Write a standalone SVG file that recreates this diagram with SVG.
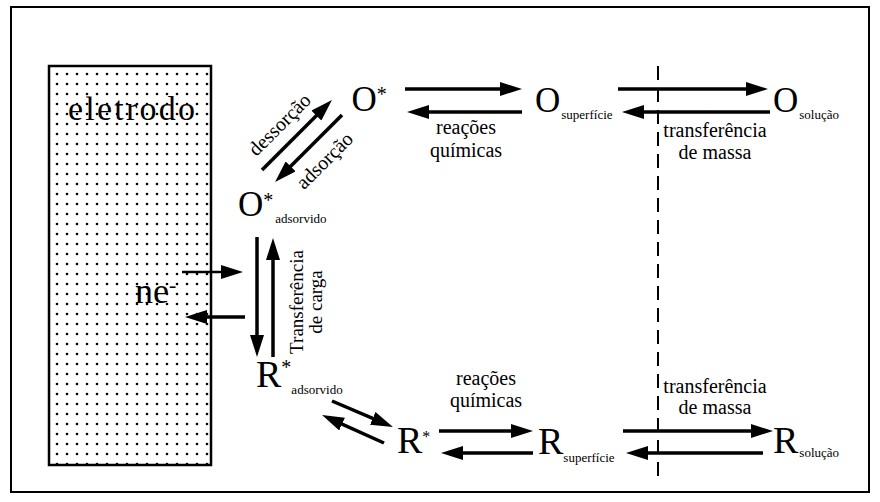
<svg xmlns="http://www.w3.org/2000/svg" width="880" height="502" viewBox="0 0 880 502">
<style>
.arr{stroke:#000;stroke-width:3.5;fill:none;marker-end:url(#ah)}
.thin{stroke-width:2.5}
</style>
<defs>
<marker id="ah" viewBox="0 0 22 14" refX="14" refY="7" markerWidth="22" markerHeight="14" markerUnits="userSpaceOnUse" orient="auto">
<path d="M0,0 L22,7 L0,14 z" fill="#000"/>
</marker>
<pattern id="dots" x="52" y="69" width="10" height="10" patternUnits="userSpaceOnUse">
<circle cx="5" cy="5" r="1.3" fill="#000"/>
</pattern>
</defs>
<rect x="11" y="7" width="858" height="485" fill="#fff" stroke="#000" stroke-width="2"/>

<g id="eletrodo">
<rect x="49" y="66" width="162" height="399" fill="url(#dots)" stroke="#000" stroke-width="2.5"/>
<text font-family="Liberation Serif" x="68" y="120" font-size="34" textLength="127" lengthAdjust="spacing">eletrodo</text>
<text font-family="Liberation Serif" x="135" y="303" font-size="36">ne<tspan font-size="22" dy="-11">-</tspan></text>
</g>

<g id="O-star">
<text font-family="Liberation Serif" font-size="35" x="351.5" y="111">O<tspan font-size="20" dy="-10">*</tspan></text>
</g>
<g id="O-superficie">
<text font-family="Liberation Serif" font-size="35" x="535" y="112">O<tspan font-size="13" dy="7" dx="1">superfície</tspan></text>
</g>
<g id="O-solucao">
<text font-family="Liberation Serif" font-size="35" x="773" y="112">O<tspan font-size="13" dy="7" dx="1">solução</tspan></text>
</g>
<g id="O-adsorvido">
<text font-family="Liberation Serif" font-size="35" x="238" y="215.5">O<tspan font-size="20" dy="-9">*</tspan><tspan font-size="13" dy="16" dx="2">adsorvido</tspan></text>
</g>
<g id="R-adsorvido">
<text font-family="Liberation Serif" font-size="38" x="256" y="387">R<tspan font-size="20" dy="-13">*</tspan><tspan font-size="13" dy="20">adsorvido</tspan></text>
</g>
<g id="R-star">
<text font-family="Liberation Serif" font-size="38" x="397" y="452.5">R<tspan font-size="16" dy="-11">*</tspan></text>
</g>
<g id="R-superficie">
<text font-family="Liberation Serif" font-size="38" x="538" y="454">R<tspan font-size="13" dy="7.5">superfície</tspan></text>
</g>
<g id="R-solucao">
<text font-family="Liberation Serif" font-size="38" x="773" y="452.5">R<tspan font-size="13" dy="4.5" dx="1">solução</tspan></text>
</g>

<g id="connectors">
<line class="arr" x1="405" y1="89" x2="514" y2="89"/>
<line class="arr" x1="522" y1="112" x2="415" y2="112"/>
<line class="arr" x1="618" y1="89" x2="760" y2="89"/>
<line class="arr" x1="770" y1="112" x2="630" y2="112"/>
<line class="arr" x1="262" y1="170" x2="326.3" y2="105.7"/>
<line class="arr" x1="342" y1="115" x2="280.7" y2="176.3"/>
<line class="arr" x1="257" y1="237" x2="257" y2="349"/>
<line class="arr" x1="273" y1="357" x2="273" y2="246"/>
<line class="arr thin" x1="182" y1="272" x2="235" y2="272"/>
<line class="arr" x1="245" y1="317" x2="193" y2="317"/>
<line class="arr" x1="332" y1="401" x2="385.6" y2="423.9"/>
<line class="arr" x1="384" y1="443" x2="329.3" y2="418.3"/>
<line class="arr" x1="439" y1="431" x2="525" y2="431"/>
<line class="arr" x1="533" y1="453" x2="449" y2="453"/>
<line class="arr" x1="623" y1="431" x2="765" y2="431"/>
<line class="arr" x1="763" y1="453" x2="634" y2="453"/>
<line x1="658" y1="66" x2="658" y2="477" stroke="#000" stroke-width="2" stroke-dasharray="14 8"/>
</g>

<g id="labels">
<text font-family="Liberation Serif" font-size="20" transform="translate(280,125) rotate(-45)" text-anchor="middle" dy="6">dessorção</text>
<text font-family="Liberation Serif" font-size="20" transform="translate(325,161) rotate(-45)" text-anchor="middle" dy="6">adsorção</text>
<text font-family="Liberation Serif" font-size="20" x="466" y="134" text-anchor="middle">reações</text>
<text font-family="Liberation Serif" font-size="20" x="466" y="156.5" text-anchor="middle">químicas</text>
<text font-family="Liberation Serif" font-size="20" x="715" y="137" text-anchor="middle">transferência</text>
<text font-family="Liberation Serif" font-size="20" x="715" y="159" text-anchor="middle">de massa</text>
<text font-family="Liberation Serif" font-size="19" transform="translate(303,302) rotate(-90)" text-anchor="middle">Transferência</text>
<text font-family="Liberation Serif" font-size="19" transform="translate(322,302) rotate(-90)" text-anchor="middle">de carga</text>
<text font-family="Liberation Serif" font-size="20" x="486" y="385" text-anchor="middle">reações</text>
<text font-family="Liberation Serif" font-size="20" x="486" y="407" text-anchor="middle">químicas</text>
<text font-family="Liberation Serif" font-size="20" x="715" y="392.5" text-anchor="middle">transferência</text>
<text font-family="Liberation Serif" font-size="20" x="715" y="414" text-anchor="middle">de massa</text>
</g>
</svg>
